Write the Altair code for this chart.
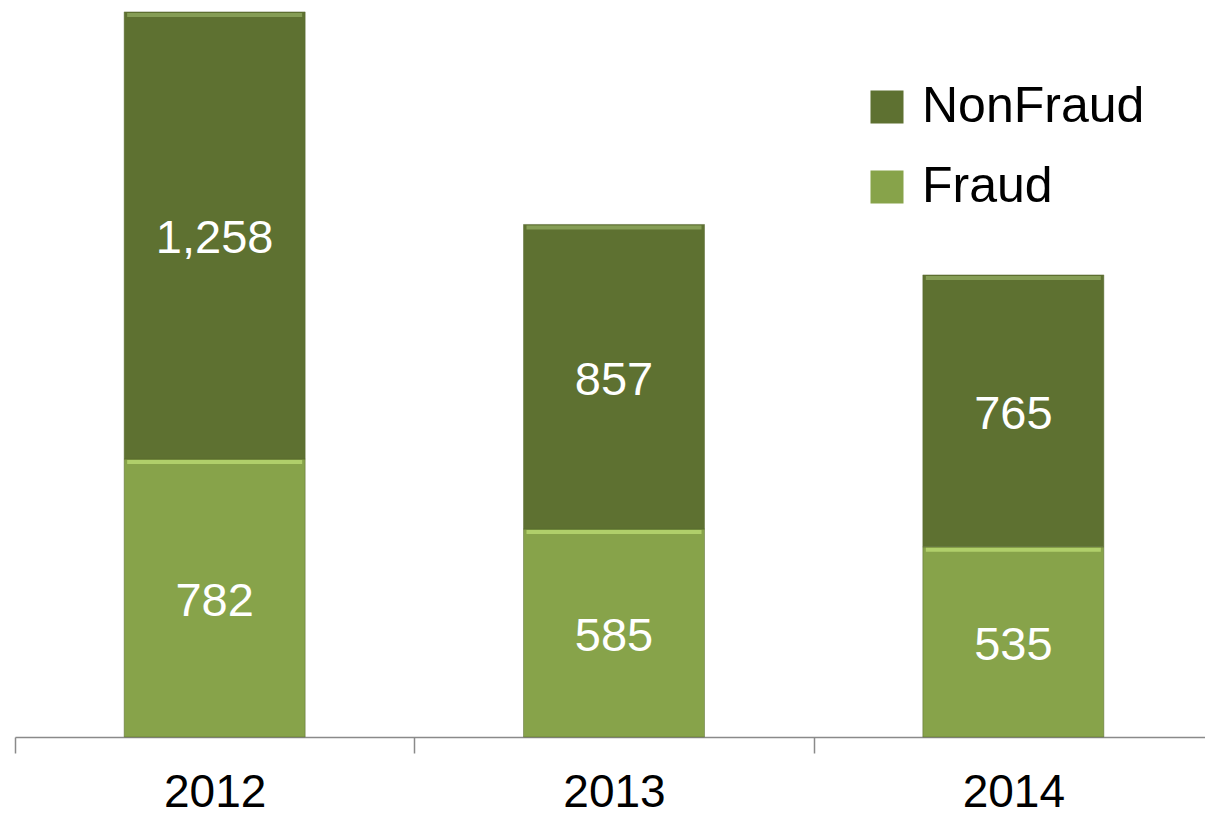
import altair as alt
import pandas as pd

years = ["2012", "2013", "2014"]
fraud = [782, 585, 535]
nonfraud = [1258, 857, 765]
series = ["NonFraud", "Fraud"]
colors = ["#5E7131", "#87A34A"]
highlights = ["#8AA25A", "#B5D46E"]

rows = []
for i, y in enumerate(years):
    rows.append({"year": y, "series": "Fraud", "value": fraud[i], "ord": 0})
    rows.append({"year": y, "series": "NonFraud", "value": nonfraud[i], "ord": 1})
df = pd.DataFrame(rows)

REG = "Liberation Sans, Arial"

xscale = alt.Scale(range=[0, 1198], paddingInner=0, paddingOuter=0)
x_enc = alt.X("year:N", title=None, scale=xscale,
              axis=alt.Axis(labelAngle=0, labelFont=REG, labelFontSize=46,
                            labelColor="black", labelPadding=17, tickBand="extent",
                            tickSize=16, tickColor="#8a8a8a", tickWidth=1.5,
                            domainColor="#8a8a8a", domainWidth=1.5, grid=False))

base = alt.Chart(df).transform_stack(
    stack="value", groupby=["year"], as_=["y0", "y1"],
    sort=[alt.SortField("ord", order="ascending")]
).transform_calculate(mid="(datum.y0 + datum.y1) / 2")

yscale = alt.Scale(domain=[0, 2051], nice=False, zero=True)

bars = base.mark_bar(size=181, stroke="#55652c", strokeWidth=0.8, strokeOpacity=0.6).encode(
    x=x_enc,
    y=alt.Y("y0:Q", scale=yscale, axis=None),
    y2="y1:Q",
    color=alt.Color("series:N",
                    scale=alt.Scale(domain=series, range=colors),
                    legend=alt.Legend(orient="none", legendX=847, legendY=74, title=None,
                                      symbolType="square", symbolSize=1089,
                                      symbolStrokeWidth=0, labelFont=REG,
                                      labelFontSize=50, labelColor="black",
                                      labelOffset=10, rowPadding=30, padding=0,
                                      labelLimit=400)),
)

hl = base.mark_tick(size=175, thickness=4, yOffset=3, opacity=0.9).encode(
    x=alt.X("year:N", scale=xscale),
    y=alt.Y("y1:Q", scale=yscale),
    color=alt.Color("series:N", scale=alt.Scale(domain=series, range=highlights), legend=None),
)

labels = base.mark_text(color="white", font=REG, fontSize=47, baseline="middle",
                        dy=4).encode(
    x=alt.X("year:N", scale=xscale),
    y=alt.Y("mid:Q", scale=yscale),
    text=alt.Text("value:Q", format=","),
)

chart = alt.layer(bars, hl, labels).resolve_scale(color="independent").properties(
    width=1190, height=729,
    autosize=alt.AutoSizeParams(type="none"),
    padding={"left": 7, "top": 0, "right": 0, "bottom": 80},
).configure_view(stroke=None)

chart.save("out.html", embed_options={"renderer": "svg", "actions": False})
